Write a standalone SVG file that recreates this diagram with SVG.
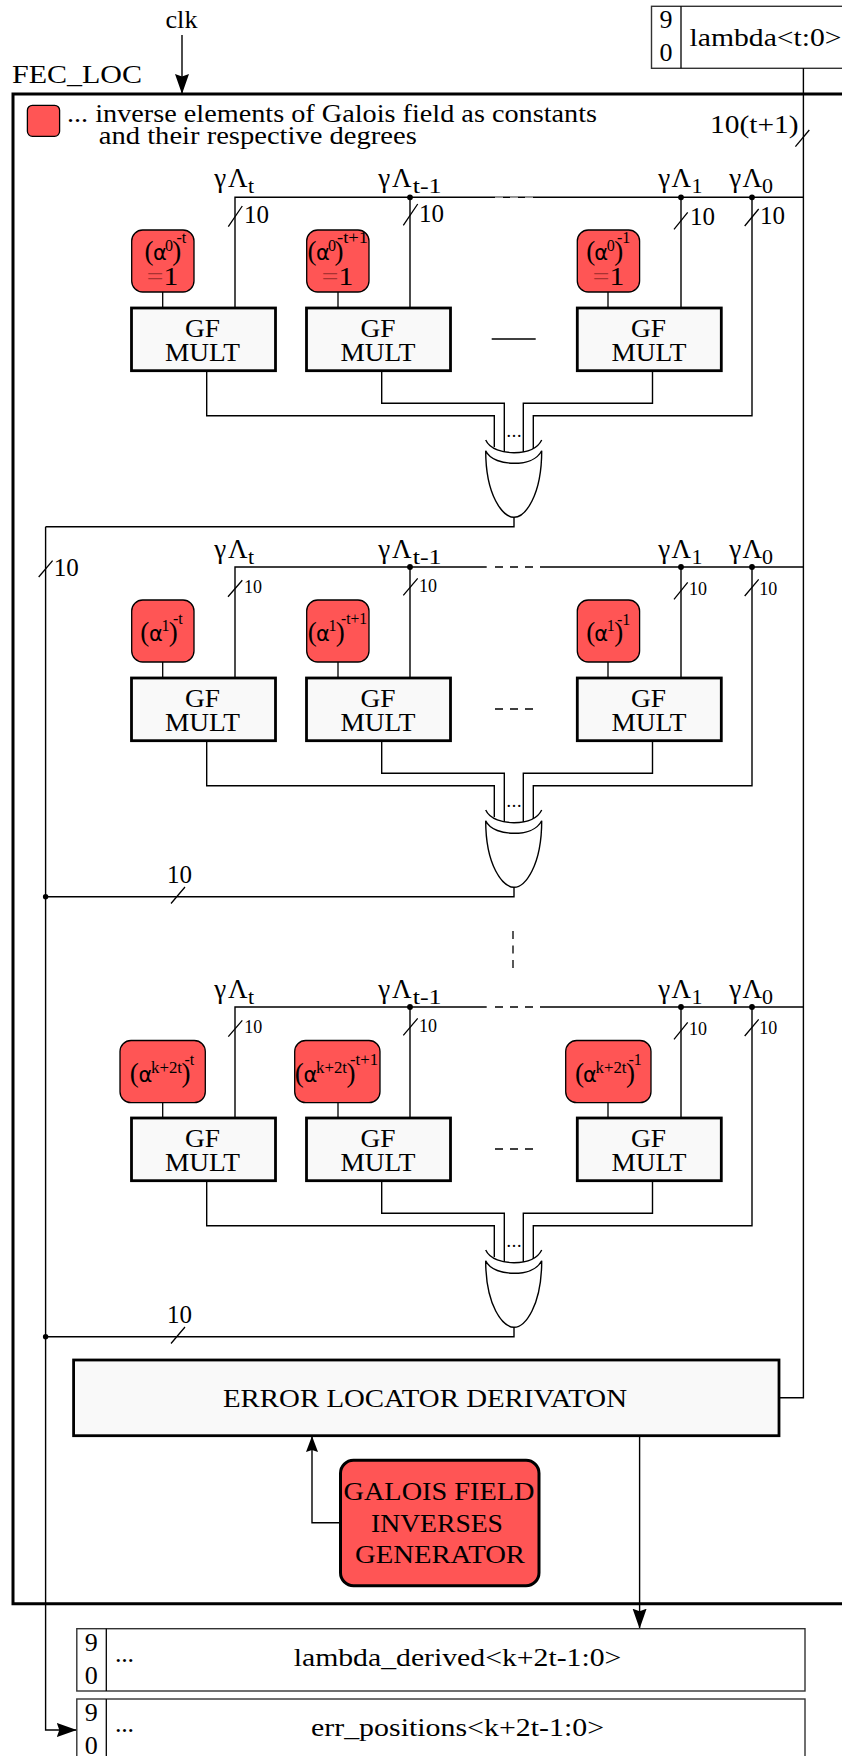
<svg xmlns="http://www.w3.org/2000/svg" width="842" height="1756" viewBox="0 0 842 1756">
<style>
text{font-family:"Liberation Serif","DejaVu Serif",serif;fill:#000;font-size:26px}
.c{text-anchor:middle}
.s{font-size:18px}
.m{font-size:25px}
.a{font-family:"DejaVu Sans","Liberation Sans",sans-serif;font-size:21px}
.p{font-size:27px}
.u{font-size:16px}
.v{font-size:16px}
.b{font-size:22px}
.l{font-size:27px}
.eq{fill:#a83232}
.w{fill:none;stroke:#000;stroke-width:1.4}
.k{fill:none;stroke:#000;stroke-width:1.3}
.frame{fill:none;stroke:#000;stroke-width:3}
.gf{fill:#f9f9f9;stroke:#000;stroke-width:2.8}
.red{fill:#ff5555;stroke:#000;stroke-width:1.3}
.reg{fill:#fff;stroke:#333;stroke-width:1.4}
.gate{fill:#fff;stroke:#000;stroke-width:1.4}
</style>
<defs>
<marker id="big" markerUnits="userSpaceOnUse" markerWidth="22" markerHeight="16" refX="20" refY="7" orient="auto"><path d="M0,0L20,7L0,14L2.5,7z" fill="#000"/></marker>
<marker id="med" markerUnits="userSpaceOnUse" markerWidth="17" markerHeight="14" refX="16" refY="6" orient="auto"><path d="M0,0L16,6L0,12L2,6z" fill="#000"/></marker>
<g id="gateShape">
<path class="gate" d="M485.7,450.7C485.7,496 503,517.3 514,517.3C525,517.3 541.7,496 541.7,450.7C537,460 525,463.3 514,463.3C503,463.3 490,460 485.7,450.7z"/>
<path class="w" d="M485.7,440C490,449.5 503,452.7 514,452.7C525,452.7 537,449.5 541.7,440"/>
</g>
</defs>

<g id="fec-frame"><path class="frame" d="M860,94H13V1603.7H860"/><text x="12" y="82.7" textLength="130" lengthAdjust="spacingAndGlyphs">FEC_LOC</text></g>

<g id="legend">
<rect class="red" x="27.4" y="105.3" width="32.2" height="31" rx="5"/>
<text class="m" x="67" y="122" textLength="530" lengthAdjust="spacingAndGlyphs">... inverse elements of Galois field as constants</text>
<text class="m" x="98.8" y="143.5" textLength="318" lengthAdjust="spacingAndGlyphs">and their respective degrees</text>
</g>

<g id="clk"><text class="m c" x="181.5" y="28" textLength="32" lengthAdjust="spacingAndGlyphs">clk</text></g>

<g id="reg-lambda">
<rect class="reg" x="651.5" y="6.3" width="210" height="62"/>
<path class="k" d="M681,6.3V68.3"/>
<text class="c" x="666" y="27.5">9</text><text class="c" x="666" y="61">0</text>
<text x="689.6" y="46" textLength="152" lengthAdjust="spacingAndGlyphs">lambda&lt;t:0&gt;</text>
</g>

<g id="connectors">
<path class="w" d="M182,35V94" marker-end="url(#big)"/>
<path class="w" d="M803.4,68.3V1397.7H779"/>
<path class="k" d="M795.4,146.7L809.3,130"/>
<path class="w" d="M45.6,526.7V1730H76.8" marker-end="url(#big)"/>
<path class="k" d="M38.7,577L52.6,560.7"/>
<path class="w" d="M514,517V526.7H45.6"/>
<path class="w" d="M514,887V896.7H45.6"/>
<path class="w" d="M514,1327V1336.7H45.6"/>
<path class="k" d="M171,903.5L185,887M171,1343.5L185,1327"/>
<circle cx="45.6" cy="896.7" r="2.7"/><circle cx="45.6" cy="1336.7" r="2.7"/>
<path class="k" d="M513,931V968" stroke-dasharray="8 6.5"/>

<!-- row 1 -->
<path class="w" d="M235,308V197.3H803.4"/>
<path d="M495,197.3H533" stroke="#fff" stroke-width="1" stroke-dasharray="8 7" opacity=".75" fill="none"/>
<path class="k" d="M491.7,339H535.7"/>
<path class="w" d="M410,308V197.3M681,308V197.3M752,197.3V415.7H533.3V449"/>
<path class="k" d="M162.7,292V308M338,292V308M608,292V308"/>
<path class="k" d="M228.3,226.7L242.3,206M403.3,225.3L417.7,204M674,229.3L687.7,212.3M744.7,226L758.7,209"/>
<circle cx="410" cy="197.3" r="2.9"/><circle cx="681" cy="197.3" r="2.9"/><circle cx="752" cy="197.3" r="2.9"/>
<path class="w" d="M206.7,371V415.7H494.3V447M381.7,371V403.3H504.3V452M652.5,371V403.3H523.3V452"/>

<!-- row 2 -->
<path class="w" d="M235,678V567H486.7M540,567H803.4"/>
<path class="k" d="M495,567H533M495,709H533" stroke-dasharray="8 7"/>
<path class="w" d="M410,678V567M681,678V567M752,567V785.7H533.3V819"/>
<path class="k" d="M162.7,662V678M338,662V678M608,662V678"/>
<path class="k" d="M228,596.7L242.3,580.3M403.3,595.3L417.7,578.3M674,599.3L687.7,582.3M744.7,596L758.7,579.3"/>
<circle cx="410" cy="567" r="2.9"/><circle cx="681" cy="567" r="2.9"/><circle cx="752" cy="567" r="2.9"/>
<path class="w" d="M206.7,741V785.7H494.3V817M381.7,741V773.3H504.3V822M652.5,741V773.3H523.3V822"/>

<!-- row 3 -->
<path class="w" d="M235,1118V1007H486.7M540,1007H803.4"/>
<path class="k" d="M495,1007H533M495,1149H533" stroke-dasharray="8 7"/>
<path class="w" d="M410,1118V1007M681,1118V1007M752,1007V1225.7H533.3V1259"/>
<path class="k" d="M162.7,1102.7V1118M338,1102.7V1118M608,1102.7V1118"/>
<path class="k" d="M228.3,1036.7L242.3,1020.3M403.3,1035.3L417.7,1018.3M674,1039.3L687.7,1022.3M744.7,1036L758.7,1019.3"/>
<circle cx="410" cy="1007" r="2.9"/><circle cx="681" cy="1007" r="2.9"/><circle cx="752" cy="1007" r="2.9"/>
<path class="w" d="M206.7,1181V1225.7H494.3V1257M381.7,1181V1213.3H504.3V1262M652.5,1181V1213.3H523.3V1262"/>

<path class="w" d="M639.6,1435.7V1628.7" marker-end="url(#big)"/>
<path class="w" d="M340.5,1522.7H312V1436" marker-end="url(#med)"/>
</g>

<g id="bus-labels">
<text class="l" x="214.3" y="187">γ<tspan x="228">Λ</tspan><tspan class="b" x="248" y="192.5">t</tspan></text>
<text class="l" x="378.3" y="187">γ<tspan x="392">Λ</tspan><tspan class="b" x="412.7" y="192.5" textLength="29" lengthAdjust="spacingAndGlyphs">t-1</tspan></text>
<text class="l" x="658.3" y="187">γ<tspan x="671.5">Λ</tspan><tspan class="b" x="691.5" y="192.5">1</tspan></text>
<text class="l" x="729.3" y="187">γ<tspan x="742.5">Λ</tspan><tspan class="b" x="762" y="192.5">0</tspan></text>
<text class="m" x="244" y="223.3">10</text><text class="m" x="419" y="222">10</text><text class="m" x="690" y="225">10</text><text class="m" x="760" y="224">10</text>

<text class="l" x="214.3" y="558">γ<tspan x="228">Λ</tspan><tspan class="b" x="248" y="563.5">t</tspan></text>
<text class="l" x="378.3" y="558">γ<tspan x="392">Λ</tspan><tspan class="b" x="412.7" y="563.5" textLength="29" lengthAdjust="spacingAndGlyphs">t-1</tspan></text>
<text class="l" x="658.3" y="558">γ<tspan x="671.5">Λ</tspan><tspan class="b" x="691.5" y="563.5">1</tspan></text>
<text class="l" x="729.3" y="558">γ<tspan x="742.5">Λ</tspan><tspan class="b" x="762" y="563.5">0</tspan></text>
<text class="s" x="244" y="593.3">10</text><text class="s" x="419" y="592">10</text><text class="s" x="689" y="595">10</text><text class="s" x="759.3" y="595">10</text>

<text class="l" x="214.3" y="998">γ<tspan x="228">Λ</tspan><tspan class="b" x="248" y="1003.5">t</tspan></text>
<text class="l" x="378.3" y="998">γ<tspan x="392">Λ</tspan><tspan class="b" x="412.7" y="1003.5" textLength="29" lengthAdjust="spacingAndGlyphs">t-1</tspan></text>
<text class="l" x="658.3" y="998">γ<tspan x="671.5">Λ</tspan><tspan class="b" x="691.5" y="1003.5">1</tspan></text>
<text class="l" x="729.3" y="998">γ<tspan x="742.5">Λ</tspan><tspan class="b" x="762" y="1003.5">0</tspan></text>
<text class="s" x="244.3" y="1033.3">10</text><text class="s" x="419" y="1032.3">10</text><text class="s" x="689" y="1035">10</text><text class="s" x="759.3" y="1034">10</text>

<text class="m" x="710" y="133" textLength="88.6" lengthAdjust="spacingAndGlyphs">10(t+1)</text>
<text x="53.7" y="576" textLength="25" lengthAdjust="spacingAndGlyphs">10</text>
<text x="167" y="882.7" textLength="25" lengthAdjust="spacingAndGlyphs">10</text>
<text x="167" y="1322.7" textLength="25" lengthAdjust="spacingAndGlyphs">10</text>
</g>

<!-- constants row 1 -->
<g id="const-1-1"><rect class="red" x="131.7" y="230" width="62.3" height="62" rx="11"/>
<text x="144.5" y="260"><tspan class="p">(</tspan><tspan class="a" x="153">α</tspan><tspan class="u" x="165" y="250.7">0</tspan><tspan class="p" x="172.3" y="260">)</tspan><tspan class="v" x="176.5" y="243">-t</tspan></text>
<text x="146.7" y="285" textLength="31.5" lengthAdjust="spacingAndGlyphs"><tspan class="eq">=</tspan>1</text></g>
<g id="const-1-2"><rect class="red" x="306.7" y="230" width="62.3" height="62" rx="11"/>
<text x="307.5" y="260"><tspan class="p">(</tspan><tspan class="a" x="316">α</tspan><tspan class="u" x="328" y="250.7">0</tspan><tspan class="p" x="334.5" y="260">)</tspan><tspan class="v" x="337" y="243" textLength="31" lengthAdjust="spacingAndGlyphs">-t+1</tspan></text>
<text x="321.7" y="285" textLength="31.5" lengthAdjust="spacingAndGlyphs"><tspan class="eq">=</tspan>1</text></g>
<g id="const-1-3"><rect class="red" x="577.3" y="230" width="62.3" height="62" rx="11"/>
<text x="586.3" y="260"><tspan class="p">(</tspan><tspan class="a" x="594.3">α</tspan><tspan class="u" x="606.8" y="250.7">0</tspan><tspan class="p" x="614.3" y="260">)</tspan><tspan class="v" x="617" y="243">-1</tspan></text>
<text x="592.7" y="285" textLength="31.5" lengthAdjust="spacingAndGlyphs"><tspan class="eq">=</tspan>1</text></g>

<!-- constants row 2 -->
<g id="const-2-1"><rect class="red" x="131.7" y="600" width="62.3" height="62" rx="11"/>
<text x="140.3" y="641"><tspan class="p">(</tspan><tspan class="a" x="149">α</tspan><tspan class="u" x="161.5" y="631">1</tspan><tspan class="p" x="168.7" y="641">)</tspan><tspan class="v" x="173" y="624">-t</tspan></text></g>
<g id="const-2-2"><rect class="red" x="306.7" y="600" width="62.3" height="62" rx="11"/>
<text x="307.7" y="641"><tspan class="p">(</tspan><tspan class="a" x="316">α</tspan><tspan class="u" x="328.5" y="631">1</tspan><tspan class="p" x="335.7" y="641">)</tspan><tspan class="v" x="341" y="624.3" textLength="26" lengthAdjust="spacingAndGlyphs">-t+1</tspan></text></g>
<g id="const-2-3"><rect class="red" x="577.3" y="600" width="62.3" height="62" rx="11"/>
<text x="586.3" y="641"><tspan class="p">(</tspan><tspan class="a" x="594.3">α</tspan><tspan class="u" x="606.8" y="631">1</tspan><tspan class="p" x="614.3" y="641">)</tspan><tspan class="v" x="617" y="624.5">-1</tspan></text></g>

<!-- constants row 3 -->
<g id="const-3-1"><rect class="red" x="120" y="1040.5" width="85.3" height="62.2" rx="11"/>
<text x="129.7" y="1081.7"><tspan class="p">(</tspan><tspan class="a" x="138.5">α</tspan><tspan class="u" x="151" y="1073.3" textLength="31" lengthAdjust="spacingAndGlyphs">k+2t</tspan><tspan class="p" x="181.5" y="1081.7">)</tspan><tspan class="v" x="184.5" y="1065">-t</tspan></text></g>
<g id="const-3-2"><rect class="red" x="294.7" y="1040.5" width="85.3" height="62.2" rx="11"/>
<text x="294.8" y="1081.7"><tspan class="p">(</tspan><tspan class="a" x="303.5">α</tspan><tspan class="u" x="316" y="1073.3" textLength="31" lengthAdjust="spacingAndGlyphs">k+2t</tspan><tspan class="p" x="346.5" y="1081.7">)</tspan><tspan class="v" x="350" y="1065" textLength="28" lengthAdjust="spacingAndGlyphs">-t+1</tspan></text></g>
<g id="const-3-3"><rect class="red" x="565.7" y="1040.5" width="85.3" height="62.2" rx="11"/>
<text x="575" y="1081.7"><tspan class="p">(</tspan><tspan class="a" x="583">α</tspan><tspan class="u" x="595.5" y="1073.3" textLength="31" lengthAdjust="spacingAndGlyphs">k+2t</tspan><tspan class="p" x="626" y="1081.7">)</tspan><tspan class="v" x="628.5" y="1065">-1</tspan></text></g>

<!-- multipliers -->
<g id="mult-1-1"><rect class="gf" x="131.5" y="308" width="144" height="62.7"/><text class="c" x="202.5" y="336.7" textLength="35" lengthAdjust="spacingAndGlyphs">GF</text><text class="c" x="202.5" y="361" textLength="75" lengthAdjust="spacingAndGlyphs">MULT</text></g>
<g id="mult-1-2"><rect class="gf" x="306.5" y="308" width="144" height="62.7"/><text class="c" x="378" y="336.7" textLength="35" lengthAdjust="spacingAndGlyphs">GF</text><text class="c" x="378" y="361" textLength="75" lengthAdjust="spacingAndGlyphs">MULT</text></g>
<g id="mult-1-3"><rect class="gf" x="577.3" y="308" width="144" height="62.7"/><text class="c" x="648.5" y="336.7" textLength="35" lengthAdjust="spacingAndGlyphs">GF</text><text class="c" x="649" y="361" textLength="75" lengthAdjust="spacingAndGlyphs">MULT</text></g>
<g id="mult-2-1"><rect class="gf" x="131.5" y="678" width="144" height="62.7"/><text class="c" x="202.5" y="706.7" textLength="35" lengthAdjust="spacingAndGlyphs">GF</text><text class="c" x="202.5" y="731" textLength="75" lengthAdjust="spacingAndGlyphs">MULT</text></g>
<g id="mult-2-2"><rect class="gf" x="306.5" y="678" width="144" height="62.7"/><text class="c" x="378" y="706.7" textLength="35" lengthAdjust="spacingAndGlyphs">GF</text><text class="c" x="378" y="731" textLength="75" lengthAdjust="spacingAndGlyphs">MULT</text></g>
<g id="mult-2-3"><rect class="gf" x="577.3" y="678" width="144" height="62.7"/><text class="c" x="648.5" y="706.7" textLength="35" lengthAdjust="spacingAndGlyphs">GF</text><text class="c" x="649" y="731" textLength="75" lengthAdjust="spacingAndGlyphs">MULT</text></g>
<g id="mult-3-1"><rect class="gf" x="131.5" y="1118" width="144" height="62.7"/><text class="c" x="202.5" y="1146.7" textLength="35" lengthAdjust="spacingAndGlyphs">GF</text><text class="c" x="202.5" y="1171" textLength="75" lengthAdjust="spacingAndGlyphs">MULT</text></g>
<g id="mult-3-2"><rect class="gf" x="306.5" y="1118" width="144" height="62.7"/><text class="c" x="378" y="1146.7" textLength="35" lengthAdjust="spacingAndGlyphs">GF</text><text class="c" x="378" y="1171" textLength="75" lengthAdjust="spacingAndGlyphs">MULT</text></g>
<g id="mult-3-3"><rect class="gf" x="577.3" y="1118" width="144" height="62.7"/><text class="c" x="648.5" y="1146.7" textLength="35" lengthAdjust="spacingAndGlyphs">GF</text><text class="c" x="649" y="1171" textLength="75" lengthAdjust="spacingAndGlyphs">MULT</text></g>

<!-- xor gates -->
<g id="xor-1"><use href="#gateShape"/><text class="s c" x="514" y="437" textLength="15" lengthAdjust="spacing">...</text></g>
<g id="xor-2"><use href="#gateShape" y="370"/><text class="s c" x="514" y="807" textLength="15" lengthAdjust="spacing">...</text></g>
<g id="xor-3"><use href="#gateShape" y="810"/><text class="s c" x="514" y="1247" textLength="15" lengthAdjust="spacing">...</text></g>

<g id="error-locator"><rect class="gf" x="73.6" y="1360" width="705.4" height="75.7"/><text class="c" x="425" y="1406.7" textLength="404" lengthAdjust="spacingAndGlyphs">ERROR LOCATOR DERIVATON</text></g>

<g id="inverses-generator"><rect x="340.5" y="1460.3" width="198.5" height="125.4" rx="13" fill="#ff5555" stroke="#000" stroke-width="3"/>
<text class="c" x="439" y="1500" textLength="191" lengthAdjust="spacingAndGlyphs">GALOIS FIELD</text>
<text class="c" x="437" y="1531.7" textLength="132" lengthAdjust="spacingAndGlyphs">INVERSES</text>
<text class="c" x="440" y="1563" textLength="170" lengthAdjust="spacingAndGlyphs">GENERATOR</text></g>

<g id="reg-lambda-derived"><rect class="reg" x="76.8" y="1628.7" width="728.2" height="62.3"/><path class="k" d="M106.3,1628.7V1691"/>
<text class="c" x="91.3" y="1650.7">9</text><text class="c" x="91.3" y="1684">0</text><text x="115" y="1661.7" textLength="19" lengthAdjust="spacing">...</text>
<text class="c" x="457.5" y="1666" textLength="327.6" lengthAdjust="spacingAndGlyphs">lambda_derived&lt;k+2t-1:0&gt;</text></g>

<g id="reg-err-positions"><rect class="reg" x="76.8" y="1699" width="728.2" height="70"/><path class="k" d="M106.3,1699V1769"/>
<text class="c" x="91.3" y="1720.7">9</text><text class="c" x="91.3" y="1754">0</text><text x="115" y="1731.7" textLength="19" lengthAdjust="spacing">...</text>
<text class="c" x="457.5" y="1735.7" textLength="293" lengthAdjust="spacingAndGlyphs">err_positions&lt;k+2t-1:0&gt;</text></g>
</svg>
